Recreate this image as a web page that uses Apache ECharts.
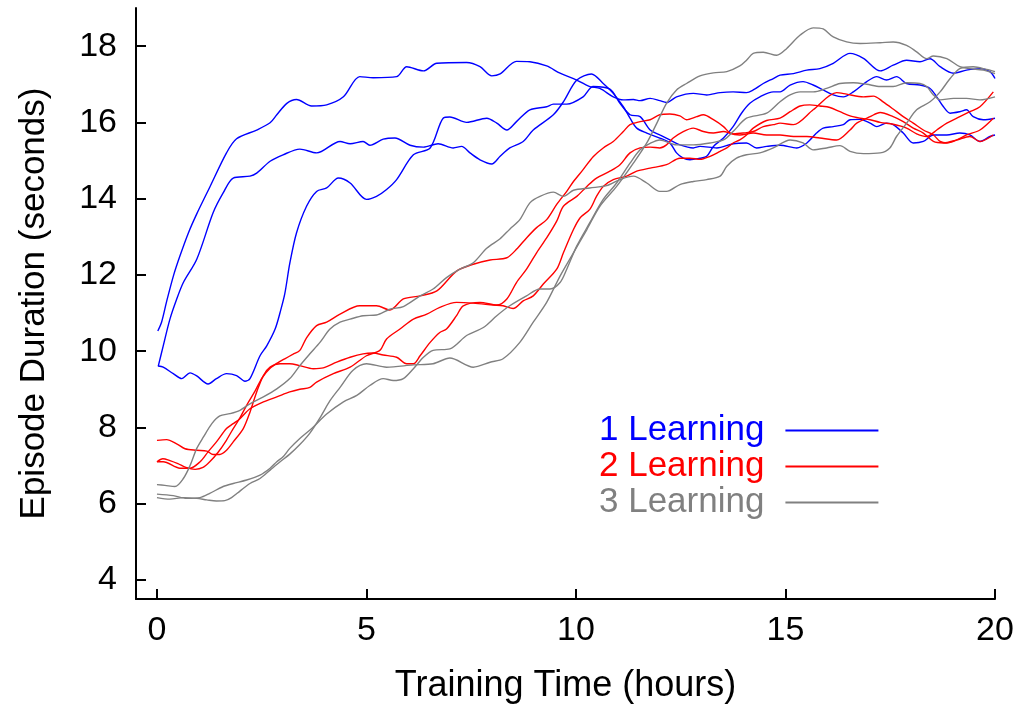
<!DOCTYPE html>
<html>
<head>
<meta charset="utf-8">
<script src="https://cdn.jsdelivr.net/npm/echarts@6/dist/echarts.min.js"></script>
<style>
  html, body { margin: 0; padding: 0; background: #fff; }
  #chart { width: 1019px; height: 709px; }
</style>
</head>
<body>
<div id="chart"></div>
<script>
// Training time (hours) vs episode duration (seconds)
const xTicks = [0, 5, 10, 15, 20];
const yTicks = [4, 6, 8, 10, 12, 14, 16, 18];
const legendNames = ['1 Learning', '2 Learning', '3 Learning'];
const colors = ['#0000ff', '#ff0000', '#808080'];

const blue1 = [[0.02,10.53],[0.11,10.76],[0.23,11.3],[0.4,12.0],[0.55,12.5],[0.75,13.1],[0.95,13.6],[1.26,14.3],[1.66,15.2],[1.9,15.57],[2.38,15.8],[2.7,15.99],[2.86,16.2],[3.1,16.5],[3.33,16.6],[3.69,16.43],[4.05,16.46],[4.45,16.67],[4.84,17.2],[5.16,17.17],[5.72,17.2],[5.96,17.46],[6.36,17.35],[6.68,17.55],[7.39,17.57],[7.71,17.46],[7.99,17.22],[8.19,17.27],[8.58,17.6],[8.9,17.59],[9.3,17.48],[9.62,17.29],[9.94,17.15],[10.33,16.94],[10.57,16.89],[10.89,16.67],[11.13,16.59],[11.37,16.6],[11.53,16.57],[11.77,16.63],[12.0,16.57],[12.16,16.52],[12.4,16.67],[12.8,16.76],[13.12,16.72],[13.44,16.78],[13.75,16.8],[14.07,16.78],[14.23,16.85],[14.47,17.02],[14.71,17.15],[14.87,17.24],[15.19,17.28],[15.51,17.37],[15.82,17.41],[16.14,17.55],[16.54,17.81],[16.86,17.68],[17.26,17.35],[17.57,17.5],[17.89,17.63],[18.21,17.59],[18.45,17.67],[18.69,17.46],[19.01,17.29],[19.32,17.37],[19.64,17.41],[19.88,17.33],[20.0,17.15]];
const blue2 = [[0.03,9.6],[0.15,10.14],[0.31,10.84],[0.47,11.36],[0.63,11.8],[0.95,12.41],[1.34,13.63],[1.58,14.15],[1.82,14.54],[2.22,14.59],[2.38,14.67],[2.7,14.98],[3.01,15.15],[3.41,15.3],[3.81,15.2],[4.37,15.5],[4.61,15.44],[4.92,15.5],[5.08,15.4],[5.4,15.56],[5.68,15.59],[6.04,15.4],[6.36,15.35],[6.71,15.44],[7.07,15.33],[7.27,15.37],[7.47,15.2],[7.71,15.02],[7.99,14.91],[8.19,15.11],[8.42,15.33],[8.74,15.5],[8.98,15.8],[9.46,16.2],[9.7,16.54],[10.02,17.11],[10.37,17.27],[10.65,17.02],[10.89,16.76],[11.13,16.41],[11.29,16.11],[11.45,15.85],[11.69,15.72],[12.0,15.59],[12.24,15.46],[12.4,15.2],[12.56,15.06],[12.72,15.02],[12.96,15.06],[13.12,15.11],[13.28,15.37],[13.52,15.59],[13.75,15.89],[13.95,16.24],[14.15,16.5],[14.39,16.67],[14.71,16.8],[14.87,16.8],[15.11,16.98],[15.42,17.07],[15.66,16.98],[15.9,16.85],[16.14,16.72],[16.38,16.67],[16.62,16.8],[16.94,17.07],[17.18,17.2],[17.41,17.11],[17.65,17.2],[17.89,17.02],[18.21,16.98],[18.45,16.89],[18.61,16.67],[18.77,16.41],[18.93,16.24],[19.16,16.28],[19.32,16.33],[19.48,16.15],[19.72,16.07],[20.0,16.11]];
const blue3 = [[0.03,9.61],[0.15,9.58],[0.39,9.41],[0.59,9.28],[0.79,9.43],[0.95,9.35],[1.22,9.14],[1.42,9.28],[1.66,9.41],[1.9,9.36],[2.1,9.21],[2.22,9.28],[2.46,9.88],[2.62,10.14],[2.82,10.58],[2.94,11.02],[3.05,11.5],[3.17,12.3],[3.33,13.1],[3.57,13.8],[3.81,14.19],[4.05,14.28],[4.33,14.54],[4.61,14.41],[5.0,13.98],[5.24,14.06],[5.48,14.24],[5.72,14.5],[6.12,15.15],[6.52,15.33],[6.83,16.11],[6.99,16.14],[7.39,16.0],[7.87,16.11],[8.11,15.98],[8.35,15.8],[8.58,16.02],[8.9,16.33],[9.3,16.41],[9.46,16.48],[9.78,16.48],[10.17,16.67],[10.41,16.94],[10.81,16.87],[11.05,16.5],[11.29,16.2],[11.53,16.15],[11.77,15.8],[12.0,15.67],[12.24,15.54],[12.48,15.41],[12.8,15.33],[12.96,15.37],[13.36,15.33],[13.75,15.44],[14.07,15.46],[14.31,15.33],[14.55,15.37],[14.87,15.4],[15.27,15.33],[15.51,15.46],[15.74,15.72],[15.9,15.85],[16.14,15.89],[16.38,15.94],[16.54,16.07],[16.78,16.08],[17.02,15.98],[17.18,15.89],[17.41,15.98],[17.57,15.94],[17.81,15.72],[18.05,15.46],[18.29,15.5],[18.53,15.67],[18.85,15.67],[19.16,15.72],[19.4,15.67],[19.64,15.5],[19.88,15.63],[20.0,15.67]];

const red1 = [[0,7.66],[0.23,7.68],[0.47,7.57],[0.67,7.44],[0.95,7.4],[1.19,7.38],[1.34,7.29],[1.5,7.29],[1.66,7.4],[1.82,7.62],[2.06,7.97],[2.22,8.4],[2.38,8.93],[2.54,9.36],[2.7,9.58],[2.94,9.67],[3.17,9.67],[3.41,9.62],[3.73,9.54],[3.97,9.56],[4.29,9.71],[4.61,9.84],[4.92,9.93],[5.16,9.95],[5.4,9.9],[5.72,9.84],[5.96,9.67],[6.12,9.67],[6.28,9.88],[6.52,10.23],[6.75,10.49],[6.91,10.58],[7.15,10.93],[7.31,11.19],[7.71,11.28],[8.11,11.21],[8.35,11.37],[8.58,11.8],[8.82,12.15],[9.06,12.58],[9.3,12.97],[9.54,13.41],[9.7,13.8],[10.02,14.06],[10.26,14.32],[10.49,14.54],[10.81,14.72],[11.05,14.89],[11.29,15.2],[11.53,15.33],[11.77,15.35],[12.0,15.33],[12.16,15.41],[12.32,15.59],[12.56,15.76],[12.8,15.85],[13.04,15.76],[13.28,15.72],[13.52,15.76],[13.75,15.7],[13.99,15.72],[14.23,15.76],[14.47,15.89],[14.71,15.94],[14.87,15.98],[15.19,15.94],[15.66,16.33],[16.22,16.78],[16.46,16.74],[16.86,16.67],[17.1,16.69],[17.33,16.54],[17.57,16.35],[17.81,16.15],[18.05,15.98],[18.29,15.8],[18.53,15.67],[18.69,15.5],[18.85,15.46],[19.09,15.54],[19.32,15.67],[19.64,15.8],[19.96,16.11]];
const red2 = [[0,7.1],[0.14,7.18],[0.31,7.13],[0.5,7.05],[0.69,6.95],[0.91,6.9],[1.1,6.95],[1.26,7.1],[1.46,7.35],[1.65,7.65],[1.81,7.95],[1.98,8.25],[2.15,8.6],[2.34,8.95],[2.51,9.3],[2.7,9.55],[2.89,9.7],[3.05,9.8],[3.25,9.92],[3.41,10.02],[3.57,10.35],[3.81,10.67],[4.05,10.76],[4.37,10.97],[4.84,11.19],[5.24,11.19],[5.56,11.08],[5.88,11.37],[6.28,11.45],[6.68,11.58],[7.15,12.1],[7.55,12.28],[7.95,12.39],[8.35,12.45],[8.58,12.67],[8.82,12.97],[9.06,13.24],[9.3,13.45],[9.54,13.85],[9.78,14.19],[9.94,14.45],[10.17,14.76],[10.41,15.1],[10.65,15.33],[10.89,15.5],[11.13,15.76],[11.29,15.94],[11.53,16.02],[11.77,16.07],[12.0,16.2],[12.24,16.22],[12.48,16.17],[12.64,16.07],[12.88,16.15],[13.04,16.2],[13.28,16.07],[13.52,15.89],[13.68,15.72],[13.91,15.67],[14.23,15.72],[14.55,15.67],[14.87,15.67],[15.19,15.63],[15.51,15.63],[15.82,15.59],[16.22,15.54],[16.54,15.8],[16.7,15.98],[17.02,16.15],[17.26,16.26],[17.57,16.15],[17.81,16.02],[18.05,15.85],[18.29,15.72],[18.53,15.5],[18.77,15.46],[19.09,15.54],[19.4,15.63],[19.64,15.5],[19.96,15.67]];
const red3 = [[0,7.1],[0.15,7.1],[0.55,6.93],[0.79,6.93],[1.03,7.1],[1.22,7.36],[1.42,7.62],[1.66,7.97],[1.82,8.1],[1.98,8.23],[2.22,8.49],[2.54,8.67],[2.86,8.8],[3.17,8.93],[3.41,9.0],[3.65,9.05],[3.81,9.19],[4.21,9.41],[4.61,9.58],[5.0,9.88],[5.32,10.02],[5.48,10.32],[5.8,10.58],[6.12,10.84],[6.44,10.97],[6.75,11.15],[7.15,11.28],[7.55,11.26],[8.03,11.21],[8.26,11.19],[8.5,11.12],[8.74,11.32],[8.98,11.45],[9.22,11.76],[9.54,12.15],[9.7,12.58],[9.94,13.19],[10.1,13.5],[10.33,13.72],[10.49,14.06],[10.65,14.32],[10.89,14.5],[11.21,14.59],[11.45,14.72],[11.77,14.8],[12.16,14.89],[12.48,15.06],[12.72,15.06],[12.96,15.03],[13.2,15.11],[13.44,15.24],[13.6,15.33],[13.75,15.46],[13.91,15.54],[14.07,15.67],[14.23,15.85],[14.55,16.05],[14.87,16.11],[15.11,16.28],[15.35,16.43],[15.58,16.46],[15.82,16.43],[16.06,16.39],[16.3,16.28],[16.54,16.17],[16.78,16.11],[17.02,16.07],[17.26,16.0],[17.57,15.95],[17.89,15.85],[18.13,15.7],[18.37,15.63],[18.61,15.8],[18.85,15.98],[19.16,16.15],[19.4,16.28],[19.64,16.41],[19.96,16.8]];

const gray1 = [[0,6.5],[0.19,6.48],[0.43,6.45],[0.63,6.66],[0.79,7.0],[0.95,7.45],[1.11,7.75],[1.31,8.1],[1.5,8.3],[1.74,8.36],[1.98,8.45],[2.22,8.62],[2.54,8.8],[2.86,9.01],[3.17,9.28],[3.41,9.62],[3.65,9.93],[3.89,10.23],[4.13,10.58],[4.37,10.76],[4.61,10.84],[4.92,10.93],[5.24,10.95],[5.56,11.1],[5.88,11.17],[6.28,11.45],[6.59,11.63],[6.91,11.93],[7.23,12.15],[7.55,12.32],[7.87,12.7],[8.19,12.95],[8.42,13.2],[8.66,13.45],[8.9,13.89],[9.14,14.06],[9.46,14.17],[9.7,14.06],[9.94,14.22],[10.33,14.28],[10.73,14.34],[11.05,14.5],[11.37,14.59],[11.69,14.41],[12.0,14.19],[12.16,14.19],[12.48,14.37],[12.8,14.45],[13.12,14.5],[13.44,14.59],[13.6,14.85],[13.83,15.06],[14.07,15.15],[14.39,15.2],[14.71,15.33],[15.11,15.54],[15.42,15.46],[15.66,15.28],[15.98,15.33],[16.3,15.39],[16.54,15.24],[16.86,15.18],[17.26,15.2],[17.49,15.33],[17.65,15.63],[17.89,15.98],[18.13,16.33],[18.45,16.54],[18.69,16.8],[18.93,17.15],[19.16,17.41],[19.48,17.46],[19.8,17.39],[20.0,17.33]];
const gray2 = [[0,6.25],[0.39,6.21],[0.71,6.14],[1.03,6.16],[1.26,6.27],[1.58,6.45],[1.82,6.53],[2.14,6.62],[2.46,6.75],[2.7,6.93],[2.86,7.1],[3.01,7.23],[3.17,7.45],[3.41,7.71],[3.72,8.0],[4.05,8.35],[4.45,8.67],[4.77,8.84],[5.08,9.1],[5.4,9.28],[5.64,9.23],[5.88,9.28],[6.12,9.54],[6.36,9.84],[6.59,10.02],[6.99,10.06],[7.39,10.41],[7.79,10.62],[8.11,10.93],[8.42,11.19],[8.82,11.45],[9.14,11.63],[9.38,11.63],[9.62,11.8],[9.78,12.15],[10.02,12.76],[10.33,13.37],[10.65,13.98],[10.97,14.41],[11.29,14.93],[11.53,15.28],[11.77,15.45],[12.0,15.54],[12.4,15.41],[12.8,15.41],[13.2,15.46],[13.52,15.54],[13.75,15.76],[14.07,16.11],[14.55,16.24],[14.87,16.54],[15.11,16.72],[15.35,16.8],[15.66,16.8],[15.98,16.89],[16.3,17.02],[16.62,17.04],[16.94,17.0],[17.26,16.94],[17.57,16.94],[17.89,17.04],[18.21,17.02],[18.37,16.94],[18.53,16.72],[18.69,16.59],[19.01,16.63],[19.32,16.63],[19.64,16.59],[20.0,16.67]];
const gray3 = [[0,6.16],[0.31,6.12],[0.63,6.16],[0.95,6.14],[1.19,6.1],[1.42,6.07],[1.62,6.08],[1.78,6.16],[1.98,6.33],[2.22,6.53],[2.46,6.66],[2.7,6.88],[2.94,7.1],[3.17,7.3],[3.41,7.55],[3.65,7.85],[3.89,8.25],[4.13,8.7],[4.37,9.05],[4.68,9.5],[5.0,9.67],[5.48,9.58],[6.12,9.64],[6.59,9.67],[6.99,9.82],[7.55,9.58],[7.95,9.71],[8.26,9.8],[8.66,10.23],[8.98,10.76],[9.3,11.28],[9.62,11.97],[9.94,12.58],[10.26,13.19],[10.57,13.8],[10.97,14.32],[11.37,14.93],[11.69,15.46],[11.93,15.98],[12.16,16.5],[12.4,16.85],[12.64,17.02],[12.96,17.22],[13.28,17.3],[13.6,17.33],[13.91,17.48],[14.07,17.63],[14.23,17.81],[14.47,17.84],[14.79,17.76],[15.03,17.94],[15.35,18.29],[15.66,18.48],[15.9,18.45],[16.14,18.24],[16.46,18.11],[16.78,18.07],[17.26,18.09],[17.57,18.11],[17.89,18.02],[18.13,17.85],[18.37,17.67],[18.53,17.74],[18.85,17.67],[19.16,17.46],[19.4,17.41],[19.72,17.37],[20.0,17.28]];

const groups = [
  { name: legendNames[0], color: colors[0], runs: [blue1, blue2, blue3] },
  { name: legendNames[1], color: colors[1], runs: [red1, red2, red3] },
  { name: legendNames[2], color: colors[2], runs: [gray1, gray2, gray3] }
];

const FONT = 'Liberation Sans, Arial, Helvetica, sans-serif';
const series = [];
groups.forEach(g => {
  g.runs.forEach(run => {
    series.push({
      name: g.name,
      type: 'line',
      data: run,
      showSymbol: false,
      symbol: 'none',
      smooth: 0.3,
      lineStyle: { color: g.color, width: 1.4 },
      itemStyle: { color: g.color },
      z: 2
    });
  });
});

const chart = echarts.init(document.getElementById('chart'), null, { renderer: 'canvas' });
chart.setOption({
  animation: false,
  backgroundColor: '#ffffff',
  grid: { left: 136, right: 24, top: 8, bottom: 107, containLabel: false },
  xAxis: {
    type: 'value', min: -0.5, max: 20,
    name: 'Training Time (hours)', nameLocation: 'middle', nameGap: 69,
    nameTextStyle: { fontSize: 36, color: '#000', fontFamily: FONT },
    axisLine: { show: true, onZero: false, lineStyle: { color: '#000', width: 2 } },
    axisTick: { show: true, inside: true, length: 10, customValues: xTicks, lineStyle: { color: '#000', width: 2 } },
    axisLabel: { customValues: xTicks, fontSize: 34, color: '#000', fontFamily: FONT, margin: 15 },
    splitLine: { show: false }
  },
  yAxis: {
    type: 'value', min: 3.5, max: 19,
    name: 'Episode Duration (seconds)', nameLocation: 'middle', nameGap: 84, nameRotate: 90,
    nameTextStyle: { fontSize: 35, color: '#000', fontFamily: FONT },
    axisLine: { show: true, onZero: false, lineStyle: { color: '#000', width: 2 } },
    axisTick: { show: true, inside: true, length: 10, customValues: yTicks, lineStyle: { color: '#000', width: 2 } },
    axisLabel: { customValues: yTicks, fontSize: 34, color: '#000', fontFamily: FONT, margin: 19 },
    splitLine: { show: false }
  },
  legend: {
    orient: 'vertical',
    left: 594, top: 408,
    align: 'right',
    icon: 'rect',
    itemWidth: 93, itemHeight: 2,
    itemGap: 1,
    selectedMode: false,
    data: legendNames.map((n, i) => ({
      name: n,
      textStyle: { color: colors[i] }
    })),
    textStyle: { fontSize: 35, fontFamily: FONT, padding: [0, 16, 0, 0], lineHeight: 34 }
  },
  series: series
});
</script>
</body>
</html>
